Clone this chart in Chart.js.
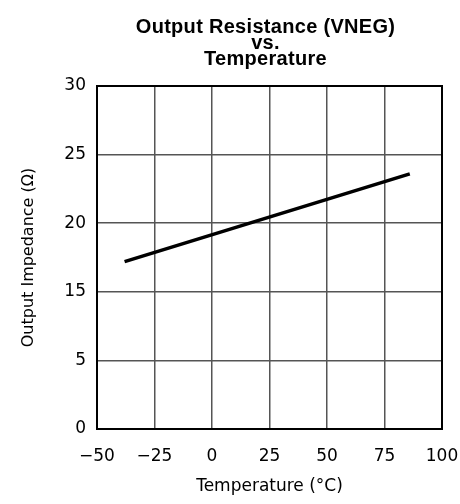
<!DOCTYPE html>
<html>
<head>
<meta charset="utf-8">
<script src="https://cdn.jsdelivr.net/npm/chart.js@4/dist/chart.umd.min.js"></script>
<style>
  html, body { margin: 0; padding: 0; background: #fff; }
  #wrap { width: 460px; height: 504px; }
</style>
</head>
<body>
<div id="wrap"><canvas id="rout"></canvas></div>
<script>
// data
var temps = [-38, 86];
var impedance = [17.2, 23.6];
var xTicks = [-50, -25, 0, 25, 50, 75, 100];
var yTickLabels = ['0', '5', '15', '20', '25', '30'];
var titleLines = ['Output Resistance (VNEG)', 'vs.', 'Temperature'];

// the y axis is broken: 0, 5, then 15..30, each step the same height
function yPos(v) {
  return v >= 15 ? 2 + (v - 15) / 5 : v / 5;
}

var tickFont = { family: "'DejaVu Sans', sans-serif", size: 17 };

var frame_plug = {
  afterDraw: function(chart) {
    var ctx = chart.ctx,
        a = chart.chartArea;

    // black frame round the plot
    ctx.save();
    ctx.strokeStyle = '#000';
    ctx.lineWidth = 2;
    ctx.strokeRect(a.left, a.top, a.right - a.left, a.bottom - a.top);

    // title
    ctx.font = "bold 20px 'Liberation Sans', Arial, sans-serif";
    ctx.letterSpacing = '0.3px';
    ctx.fillStyle = '#000';
    ctx.textAlign = 'center';
    ctx.textBaseline = 'alphabetic';
    var cx = (a.left + a.right) / 2 - 4;
    for (var i = 0; i < titleLines.length; i++) {
      ctx.fillText(titleLines[i], cx, 33 + i * 16);
    }
    ctx.restore();
  }
};

var ctx = document.getElementById('rout').getContext('2d');
var rout = new Chart(ctx, {
  type: 'line',
  plugins: [frame_plug],
  data: {
    datasets: [{
      data: temps.map(function(t, i) { return { x: t, y: yPos(impedance[i]) }; }),
      borderColor: '#000',
      borderWidth: 3.5,
      pointRadius: 0,
      fill: false,
      tension: 0
    }]
  },
  options: {
    animation: false,
    events: [],
    responsive: true,
    maintainAspectRatio: false,
    layout: { padding: { top: 86, right: 0, left: 8, bottom: 0 } },
    plugins: {
      legend: { display: false },
      title: { display: false },
      tooltip: { enabled: false }
    },
    scales: {
      x: {
        type: 'linear',
        min: -50,
        max: 100,
        afterBuildTicks: function(scale) {
          scale.ticks = xTicks.map(function(v) { return { value: v }; });
        },
        ticks: {
          color: '#000',
          font: tickFont,
          padding: 17,
          maxRotation: 0,
          callback: function(v) { return String(v).replace('-', '\u2212'); }
        },
        grid: { color: '#555', lineWidth: 1.5, drawTicks: false },
        border: { color: '#000', width: 2 },
        title: {
          display: true,
          text: 'Temperature (°C)',
          color: '#000',
          font: { family: "'DejaVu Sans', sans-serif", size: 17 },
          padding: { top: 4, bottom: 7 }
        },
        afterFit: function(scale) {
          scale.height = 75;
          scale.paddingRight = 18;
        }
      },
      y: {
        type: 'linear',
        min: 0,
        max: 5,
        ticks: {
          stepSize: 1,
          color: '#000',
          font: tickFont,
          padding: 11,
          callback: function(v) { return yTickLabels[v]; }
        },
        grid: { color: '#555', lineWidth: 1.5, drawTicks: false },
        border: { color: '#000', width: 2 },
        title: {
          display: true,
          text: 'Output Impedance (Ω)',
          color: '#000',
          font: { family: "'DejaVu Sans', sans-serif", size: 16 },
          padding: { top: 11, bottom: 4 }
        },
        afterFit: function(scale) { scale.width = 89; }
      }
    }
  }
});
</script>
</body>
</html>
